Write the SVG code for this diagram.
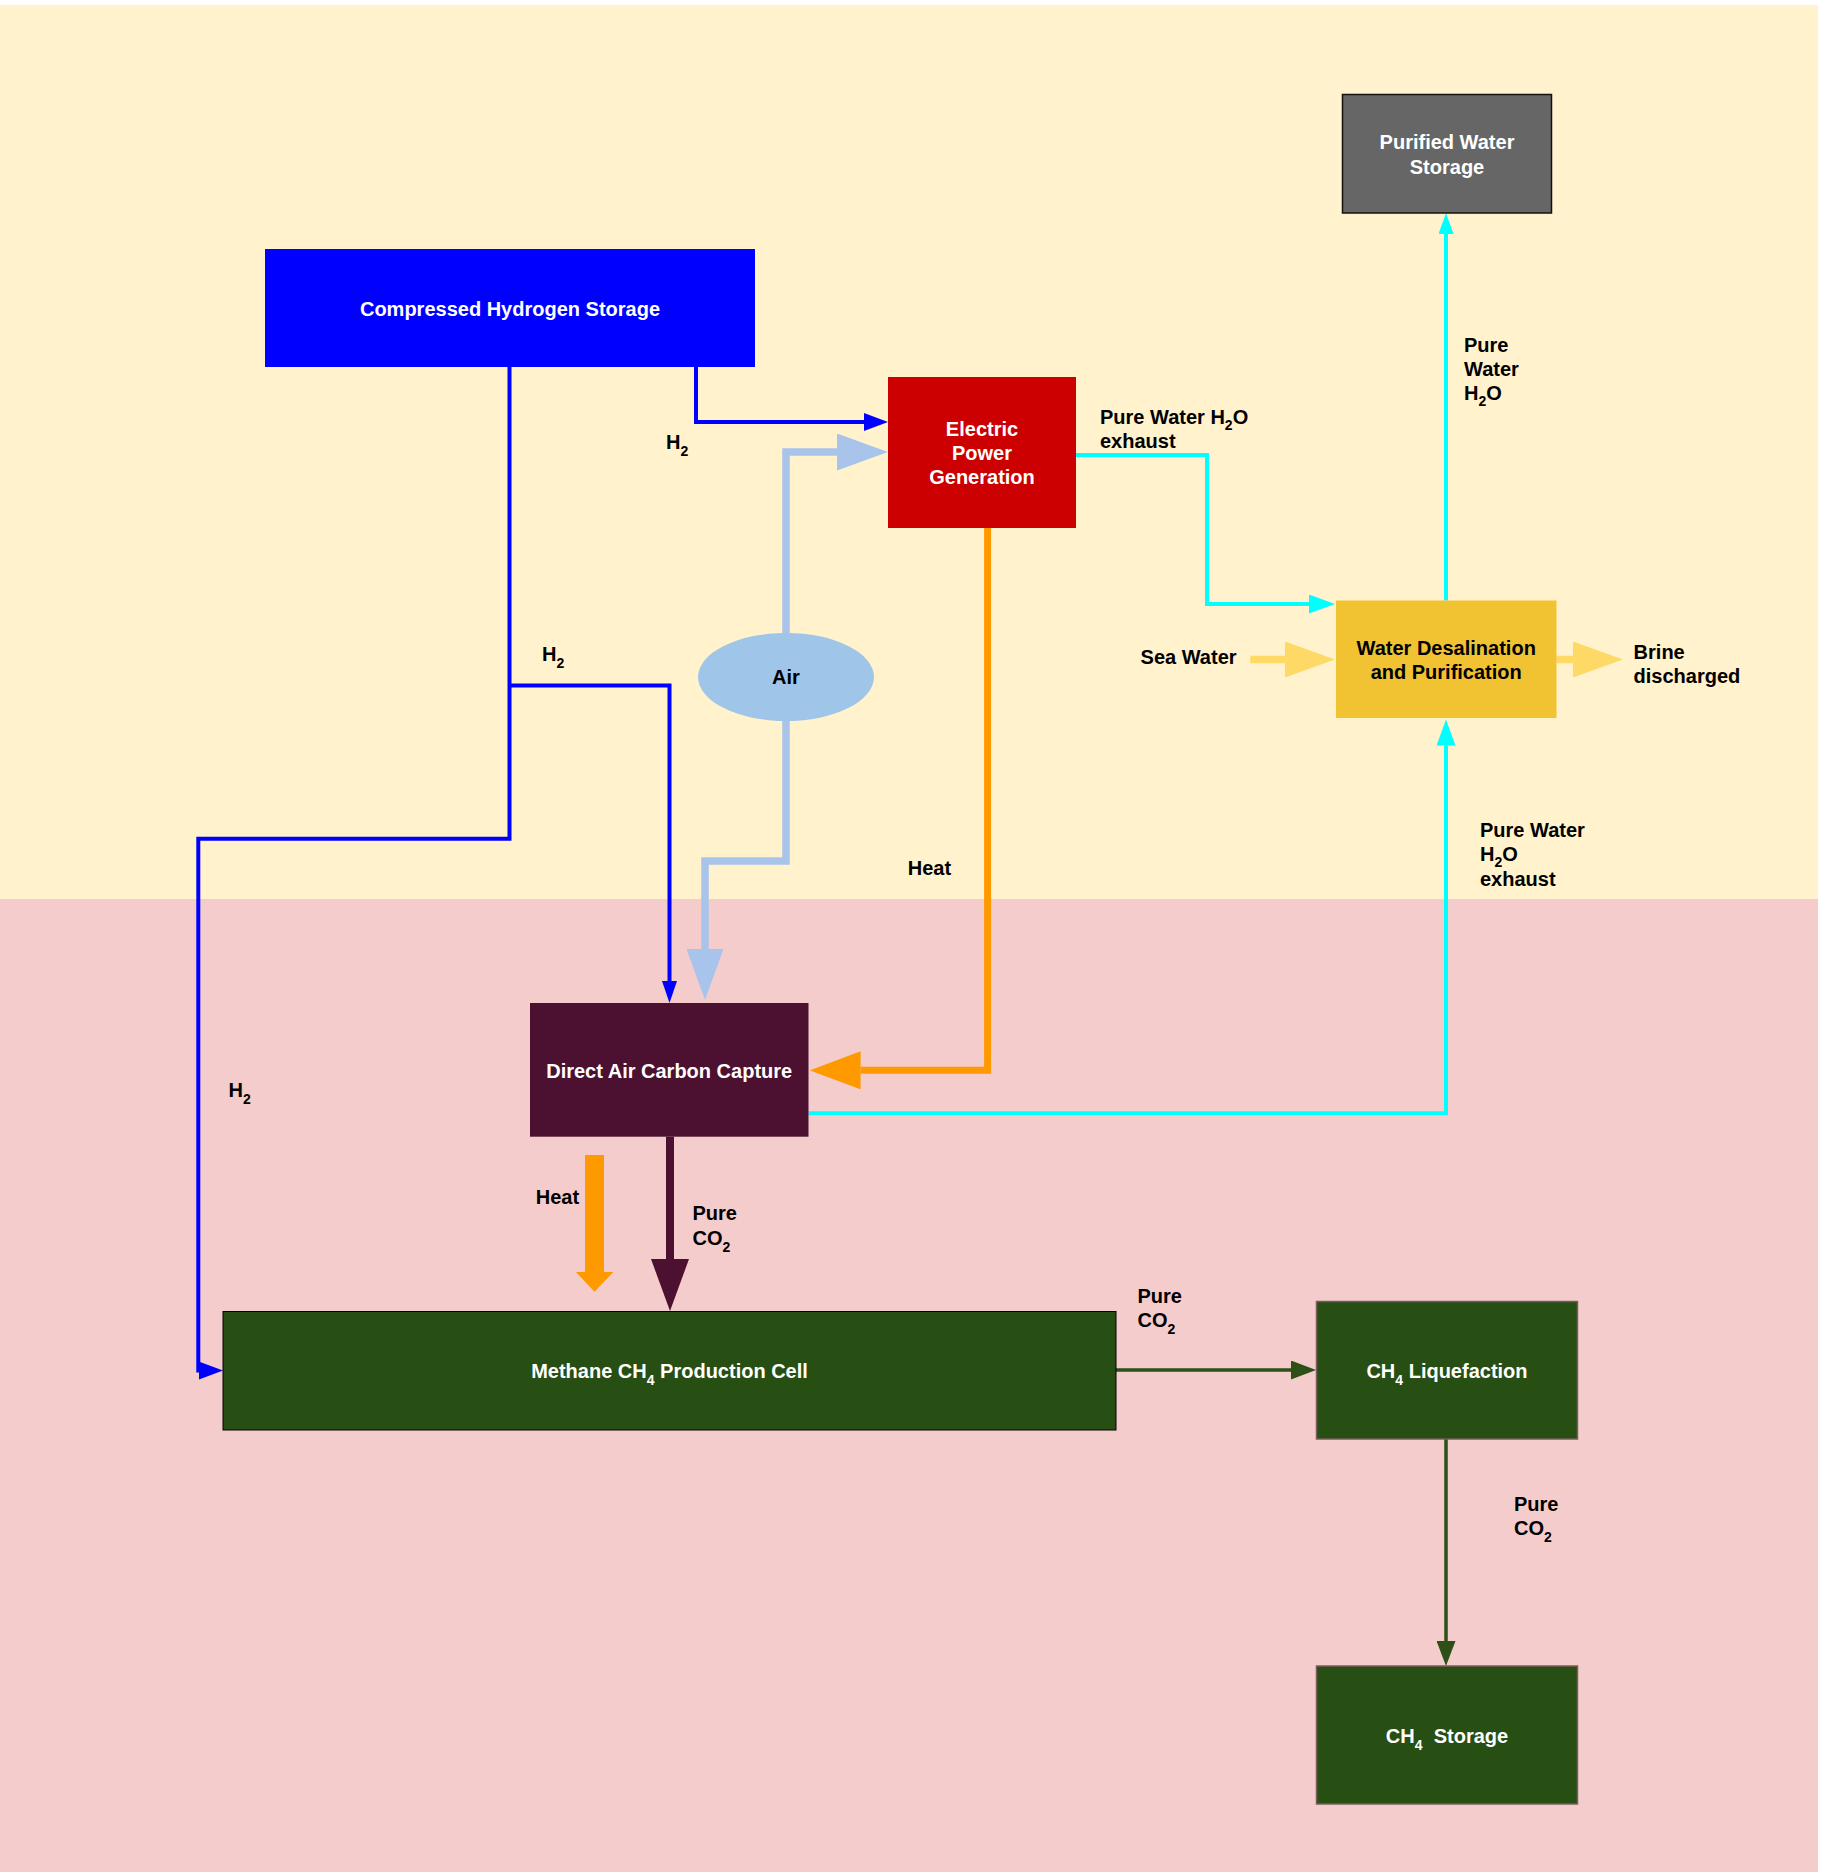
<svg xmlns="http://www.w3.org/2000/svg" width="1824" height="1872" viewBox="0 0 1824 1872">
<style>
text{font-family:"Liberation Sans",Arial,Helvetica,sans-serif;font-weight:bold;font-size:20px;fill:#000}
.w{fill:#fff}
.c{text-anchor:middle}
.sub{font-size:14px}
.ln{fill:none;stroke-linejoin:miter}
.blue{stroke:#0000FF;stroke-width:4}
.air{stroke:#A9C4EB;stroke-width:7.5}
.org{stroke:#FF9900;stroke-width:7}
.cyan{stroke:#00FFFF;stroke-width:4}
.pur{stroke:#4C1130;stroke-width:8}
.grn{stroke:#2D5016;stroke-width:3.5}
.sea{stroke:#FFD966;stroke-width:7.5}
</style>
<defs>
<marker id="mBlue" markerUnits="userSpaceOnUse" markerWidth="24" markerHeight="18" refX="0" refY="9" orient="auto"><path d="M0,0 L24,9 L0,18 z" fill="#0000FF"/></marker>
<marker id="mBlueS" markerUnits="userSpaceOnUse" markerWidth="22" markerHeight="15" refX="0" refY="7.5" orient="auto"><path d="M0,0 L22,7.5 L0,15 z" fill="#0000FF"/></marker>
<marker id="mCyan" markerUnits="userSpaceOnUse" markerWidth="26" markerHeight="19" refX="0" refY="9.5" orient="auto"><path d="M0,0 L26,9.5 L0,19 z" fill="#00FFFF"/></marker>
<marker id="mCyanS" markerUnits="userSpaceOnUse" markerWidth="21" markerHeight="15" refX="0" refY="7.5" orient="auto"><path d="M0,0 L21,7.5 L0,15 z" fill="#00FFFF"/></marker>
<marker id="mGrn" markerUnits="userSpaceOnUse" markerWidth="25" markerHeight="19" refX="0" refY="9.5" orient="auto"><path d="M0,0 L25,9.5 L0,19 z" fill="#2D5016"/></marker>
<marker id="mAir" markerUnits="userSpaceOnUse" markerWidth="51" markerHeight="37" refX="0" refY="18.5" orient="auto"><path d="M0,0 L51,18.5 L0,37 z" fill="#A9C4EB"/></marker>
<marker id="mOrg" markerUnits="userSpaceOnUse" markerWidth="51" markerHeight="38" refX="0" refY="19" orient="auto"><path d="M0,0 L51,19 L0,38 z" fill="#FF9900"/></marker>
<marker id="mPur" markerUnits="userSpaceOnUse" markerWidth="52" markerHeight="38" refX="0" refY="19" orient="auto"><path d="M0,0 L52,19 L0,38 z" fill="#4C1130"/></marker>
<marker id="mSea" markerUnits="userSpaceOnUse" markerWidth="50" markerHeight="36" refX="0" refY="18" orient="auto"><path d="M0,0 L50,18 L0,36 z" fill="#FFD966"/></marker>
</defs>

<g id="background">
<rect x="0" y="0" width="1824" height="1872" fill="#ffffff"/>
<rect x="0" y="5" width="1818" height="894" fill="#FFF2CC"/>
<rect x="0" y="899" width="1818" height="973" fill="#F4CCCC"/>
</g>

<g id="connectors">
<path class="ln blue" d="M696,367 V422 H864" marker-end="url(#mBlue)"/>
<path class="ln blue" d="M509.5,367 V838.7 H198.3 V1370.6 H199" marker-end="url(#mBlue)"/>
<path class="ln blue" d="M509.5,685.4 H669.5 V981" marker-end="url(#mBlueS)"/>
<path class="ln air" d="M786,633 V452 H837" marker-end="url(#mAir)"/>
<path class="ln air" d="M786,720.5 V861 H705 V949" marker-end="url(#mAir)"/>
<path class="ln org" d="M987.6,528 V1070.3 H860.6" marker-end="url(#mOrg)"/>
<path class="ln cyan" d="M1076,455 H1207 V604 H1309" marker-end="url(#mCyan)"/>
<path class="ln cyan" d="M1446,600.5 V234" marker-end="url(#mCyanS)"/>
<path class="ln cyan" d="M808.5,1113.3 H1446 V745.5" marker-end="url(#mCyan)"/>
<path class="ln pur" d="M670,1136.7 V1259" marker-end="url(#mPur)"/>
<path class="ln grn" d="M1116,1370 H1291" marker-end="url(#mGrn)"/>
<path class="ln grn" d="M1446,1439 V1641" marker-end="url(#mGrn)"/>
<path class="ln sea" d="M1250.3,659.5 H1285" marker-end="url(#mSea)"/>
<path class="ln sea" d="M1556.5,659.5 H1573" marker-end="url(#mSea)"/>
<polygon id="heat-arrow" points="585,1155 604,1155 604,1272 613.3,1272 594.5,1291.7 576,1272 585,1272" fill="#FF9900"/>
</g>

<g id="labels">
<text x="666" y="449">H<tspan class="sub" dy="7">2</tspan></text>
<text x="542" y="661">H<tspan class="sub" dy="7">2</tspan></text>
<text x="228.6" y="1097">H<tspan class="sub" dy="7">2</tspan></text>
<text x="1100" y="424">Pure Water H<tspan class="sub" dy="6">2</tspan><tspan dy="-6">O</tspan></text>
<text x="1100" y="448">exhaust</text>
<text x="1464" y="352">Pure</text>
<text x="1464" y="376">Water</text>
<text x="1464" y="400">H<tspan class="sub" dy="6">2</tspan><tspan dy="-6">O</tspan></text>
<text x="1140.6" y="664">Sea Water</text>
<text x="1633.6" y="659">Brine</text>
<text x="1633.6" y="683">discharged</text>
<text x="1480" y="837">Pure Water</text>
<text x="1480" y="861">H<tspan class="sub" dy="6">2</tspan><tspan dy="-6">O</tspan></text>
<text x="1480" y="886">exhaust</text>
<text x="907.7" y="875">Heat</text>
<text x="535.7" y="1204">Heat</text>
<text x="692.5" y="1219.5">Pure</text>
<text x="692.5" y="1245">CO<tspan class="sub" dy="7">2</tspan></text>
<text x="1137.5" y="1302.5">Pure</text>
<text x="1137.5" y="1327">CO<tspan class="sub" dy="7">2</tspan></text>
<text x="1514" y="1511">Pure</text>
<text x="1514" y="1535">CO<tspan class="sub" dy="7">2</tspan></text>
</g>

<g id="node-compressed-hydrogen-storage">
<rect x="265" y="249" width="490" height="118" fill="#0000FF"/>
<text class="w c" x="510" y="315.5">Compressed Hydrogen Storage</text>
</g>

<g id="node-electric-power-generation">
<rect x="888" y="377" width="188" height="151" fill="#CC0000"/>
<text class="w c" x="982" y="436">Electric</text>
<text class="w c" x="982" y="460">Power</text>
<text class="w c" x="982" y="484">Generation</text>
</g>

<g id="node-purified-water-storage">
<rect x="1342.5" y="94.5" width="209" height="118.5" fill="#666666" stroke="#111111" stroke-width="1.5"/>
<text class="w c" x="1447" y="149">Purified Water</text>
<text class="w c" x="1447" y="173.5">Storage</text>
</g>

<g id="node-water-desalination">
<rect x="1336" y="600.5" width="220.5" height="117.5" fill="#F1C232"/>
<text class="c" x="1446.2" y="655">Water Desalination</text>
<text class="c" x="1446.2" y="679">and Purification</text>
</g>

<g id="node-air">
<ellipse cx="786" cy="677" rx="88" ry="44" fill="#9FC5E8"/>
<text class="c" x="786" y="684">Air</text>
</g>

<g id="node-direct-air-carbon-capture">
<rect x="530" y="1003" width="278.5" height="133.7" fill="#4C1130"/>
<text class="w c" x="669.2" y="1077.5">Direct Air Carbon Capture</text>
</g>

<g id="node-methane-production-cell">
<rect x="223" y="1311.5" width="893" height="118.5" fill="#274E13" stroke="#000000" stroke-width="1"/>
<text class="w c" x="669.5" y="1378">Methane CH<tspan class="sub" dy="7">4</tspan><tspan dy="-7"> Production Cell</tspan></text>
</g>

<g id="node-ch4-liquefaction">
<rect x="1316.5" y="1301.5" width="261" height="137.5" fill="#274E13" stroke="#7A5C5C" stroke-width="1.5"/>
<text class="w c" x="1447" y="1378">CH<tspan class="sub" dy="7">4</tspan><tspan dy="-7"> Liquefaction</tspan></text>
</g>

<g id="node-ch4-storage">
<rect x="1316.5" y="1666" width="261" height="138" fill="#274E13" stroke="#7A5C5C" stroke-width="1.5"/>
<text class="w c" x="1447" y="1743">CH<tspan class="sub" dy="7">4</tspan><tspan dy="-7">&#160; Storage</tspan></text>
</g>
</svg>
